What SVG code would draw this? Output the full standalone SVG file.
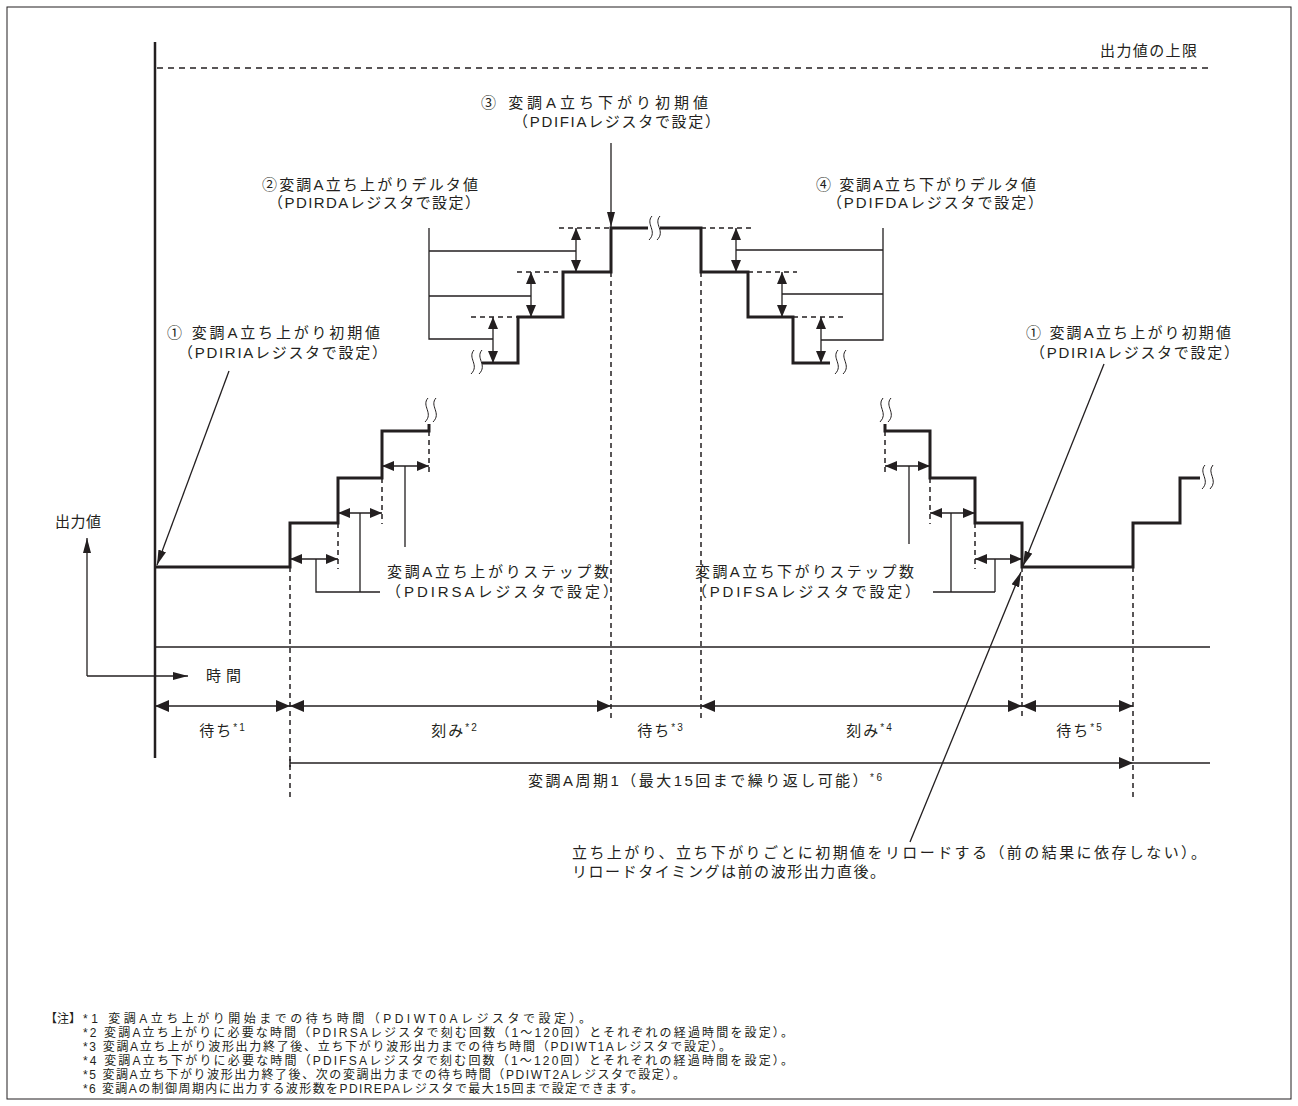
<svg xmlns="http://www.w3.org/2000/svg" width="1298" height="1106" viewBox="0 0 1298 1106">
<defs>
<style>
.t{font-family:"Liberation Sans","Noto Sans CJK JP",sans-serif;font-size:15px;fill:#231f20}
.n{font-size:12px}
.sup{font-size:10px}
.wf{fill:none;stroke:#231f20;stroke-width:3;stroke-linejoin:miter}
.ln{fill:none;stroke:#231f20;stroke-width:1.3}
.dm{fill:none;stroke:#231f20;stroke-width:1.5}
.ax{fill:none;stroke:#231f20;stroke-width:2.5}
.ds{fill:none;stroke:#231f20;stroke-width:1.5;stroke-dasharray:5 4}
.dl{fill:none;stroke:#231f20;stroke-width:1.5;stroke-dasharray:6 5}
.bk{fill:none;stroke:#231f20;stroke-width:1}
</style>
<marker id="s" viewBox="0 0 12 10" refX="12" refY="5" markerWidth="12" markerHeight="10" markerUnits="userSpaceOnUse" orient="auto-start-reverse"><path d="M0,0L12,5L0,10z" fill="#231f20"/></marker>
<marker id="d" viewBox="0 0 14 12" refX="14" refY="6" markerWidth="14" markerHeight="12" markerUnits="userSpaceOnUse" orient="auto-start-reverse"><path d="M0,0L14,6L0,12z" fill="#231f20"/></marker>
<marker id="p" viewBox="0 0 15 8" refX="15" refY="4" markerWidth="15" markerHeight="8" markerUnits="userSpaceOnUse" orient="auto"><path d="M0,0L15,4L0,8z" fill="#231f20"/></marker>
<g id="brk"><path class="bk" d="M-2,-12C-9,-4 4,3 -5,12M6,-12C-1,-4 12,3 3,12"/></g>
</defs>

<rect x="7" y="7" width="1284" height="1092" fill="#fff" stroke="#231f20" stroke-width="1"/>

<g id="axes">
<line class="ax" x1="155" y1="42" x2="155" y2="758"/>
<line class="dm" x1="155" y1="647" x2="1210" y2="647"/>
<line class="dl" x1="157" y1="68" x2="1210" y2="68"/>
<path class="ln" d="M87,676V538" marker-end="url(#p)"/>
<path class="ln" d="M87,676H188" marker-end="url(#p)"/>
</g>

<g id="waveform">
<path class="wf" d="M155,567H290V523H338V478H382V431H429V424"/>
<path class="wf" d="M482,363H518V317H563V272H611V228H648"/>
<path class="wf" d="M660,228H701V272H748V317H793V363H830"/>
<path class="wf" d="M885,424V431H930V478H975V523H1022V567H1133V523H1180V478H1200"/>
<use href="#brk" x="430" y="410"/>
<use href="#brk" x="885" y="410"/>
<use href="#brk" x="476" y="362"/>
<use href="#brk" x="654" y="228"/>
<use href="#brk" x="840" y="362"/>
<use href="#brk" x="1207" y="477"/>
</g>

<g id="connectors">
<line class="ds" x1="290" y1="567" x2="290" y2="800"/>
<line class="ds" x1="611" y1="272" x2="611" y2="720"/>
<line class="ds" x1="701" y1="272" x2="701" y2="720"/>
<line class="ds" x1="1022" y1="567" x2="1022" y2="720"/>
<line class="ds" x1="1133" y1="567" x2="1133" y2="800"/>
<line class="ds" x1="338" y1="523" x2="338" y2="569"/>
<line class="ds" x1="382" y1="478" x2="382" y2="524"/>
<line class="ds" x1="429" y1="431" x2="429" y2="476"/>
<line class="ds" x1="885" y1="431" x2="885" y2="476"/>
<line class="ds" x1="930" y1="478" x2="930" y2="524"/>
<line class="ds" x1="975" y1="523" x2="975" y2="569"/>
<line class="ds" x1="559" y1="228" x2="611" y2="228"/>
<line class="ds" x1="517" y1="272" x2="563" y2="272"/>
<line class="ds" x1="471" y1="317" x2="518" y2="317"/>
<line class="ds" x1="701" y1="228" x2="753" y2="228"/>
<line class="ds" x1="748" y1="272" x2="797" y2="272"/>
<line class="ds" x1="793" y1="317" x2="843" y2="317"/>
<line class="ln" x1="576" y1="228" x2="576" y2="272" marker-start="url(#s)" marker-end="url(#s)"/>
<line class="ln" x1="531" y1="272" x2="531" y2="317" marker-start="url(#s)" marker-end="url(#s)"/>
<line class="ln" x1="493" y1="317" x2="493" y2="363" marker-start="url(#s)" marker-end="url(#s)"/>
<line class="ln" x1="736" y1="228" x2="736" y2="272" marker-start="url(#s)" marker-end="url(#s)"/>
<line class="ln" x1="782" y1="272" x2="782" y2="317" marker-start="url(#s)" marker-end="url(#s)"/>
<line class="ln" x1="821" y1="317" x2="821" y2="363" marker-start="url(#s)" marker-end="url(#s)"/>
<path class="ln" d="M429,228V339H493M429,296H531M429,251H576"/>
<path class="ln" d="M883,228V340H821M883,294H782M883,250H736"/>
<line class="ln" x1="290" y1="559" x2="338" y2="559" marker-start="url(#s)" marker-end="url(#s)"/>
<line class="ln" x1="338" y1="513" x2="382" y2="513" marker-start="url(#s)" marker-end="url(#s)"/>
<line class="ln" x1="382" y1="466" x2="429" y2="466" marker-start="url(#s)" marker-end="url(#s)"/>
<line class="ln" x1="885" y1="466" x2="930" y2="466" marker-start="url(#s)" marker-end="url(#s)"/>
<line class="ln" x1="930" y1="513" x2="975" y2="513" marker-start="url(#s)" marker-end="url(#s)"/>
<line class="ln" x1="975" y1="559" x2="1022" y2="559" marker-start="url(#s)" marker-end="url(#s)"/>
<path class="ln" d="M316,559V592H380M360,513V592M405,466V547"/>
<path class="ln" d="M909,466V544M951,513V592M995,559V592M933,592H995"/>
<line class="ln" x1="611" y1="143" x2="611" y2="227" marker-end="url(#p)"/>
<line class="ln" x1="229" y1="371" x2="157" y2="565" marker-end="url(#p)"/>
<line class="ln" x1="1104" y1="364" x2="1023" y2="566" marker-end="url(#p)"/>
<line class="ln" x1="910" y1="842" x2="1021" y2="572" marker-end="url(#p)"/>
<line class="dm" x1="155" y1="706" x2="290" y2="706" marker-start="url(#d)" marker-end="url(#d)"/>
<line class="dm" x1="290" y1="706" x2="611" y2="706" marker-start="url(#d)" marker-end="url(#d)"/>
<line class="dm" x1="611" y1="706" x2="701" y2="706"/>
<line class="dm" x1="701" y1="706" x2="1022" y2="706" marker-start="url(#d)" marker-end="url(#d)"/>
<line class="dm" x1="1022" y1="706" x2="1133" y2="706" marker-start="url(#d)" marker-end="url(#d)"/>
<line class="dm" x1="290" y1="763" x2="1133" y2="763" marker-end="url(#d)"/>
<line class="dm" x1="1133" y1="763" x2="1210" y2="763"/>
<line class="dm" x1="290" y1="759" x2="290" y2="767"/>
</g>

<g id="label-limit"><text class="t" x="1100" y="56" font-size="14" textLength="97" lengthAdjust="spacing">出力値の上限</text></g>
<g id="label-output"><text class="t" x="55" y="527" font-size="14" textLength="46" lengthAdjust="spacing">出力値</text></g>
<g id="label-time"><text class="t" x="206" y="681" textLength="35" lengthAdjust="spacing">時間</text></g>

<g id="label-3">
<text class="t" x="481" y="108" textLength="227" lengthAdjust="spacing">③ 変調A立ち下がり初期値</text>
<text class="t" x="513" y="127" textLength="207" lengthAdjust="spacing">（PDIFIAレジスタで設定）</text>
</g>
<g id="label-2">
<text class="t" x="262" y="190" textLength="216" lengthAdjust="spacing">②変調A立ち上がりデルタ値</text>
<text class="t" x="268" y="208" textLength="212" lengthAdjust="spacing">（PDIRDAレジスタで設定）</text>
</g>
<g id="label-4">
<text class="t" x="816" y="190" textLength="220" lengthAdjust="spacing">④ 変調A立ち下がりデルタ値</text>
<text class="t" x="827" y="208" textLength="216" lengthAdjust="spacing">（PDIFDAレジスタで設定）</text>
</g>
<g id="label-1-left">
<text class="t" x="167" y="338" textLength="213" lengthAdjust="spacing">① 変調A立ち上がり初期値</text>
<text class="t" x="178" y="358" textLength="209" lengthAdjust="spacing">（PDIRIAレジスタで設定）</text>
</g>
<g id="label-1-right">
<text class="t" x="1026" y="338" textLength="205" lengthAdjust="spacing">① 変調A立ち上がり初期値</text>
<text class="t" x="1030" y="358" textLength="209" lengthAdjust="spacing">（PDIRIAレジスタで設定）</text>
</g>
<g id="label-rise-steps">
<text class="t" x="387" y="577" textLength="222" lengthAdjust="spacing">変調A立ち上がりステップ数</text>
<text class="t" x="386" y="597" textLength="232" lengthAdjust="spacing">（PDIRSAレジスタで設定）</text>
</g>
<g id="label-fall-steps">
<text class="t" x="695" y="577" textLength="219" lengthAdjust="spacing">変調A立ち下がりステップ数</text>
<text class="t" x="692" y="597" textLength="228" lengthAdjust="spacing">（PDIFSAレジスタで設定）</text>
</g>

<g id="label-dims">
<text class="t" x="223" y="736" text-anchor="middle" letter-spacing="2">待ち<tspan class="sup" dy="-5">*1</tspan></text>
<text class="t" x="455" y="736" text-anchor="middle" letter-spacing="2">刻み<tspan class="sup" dy="-5">*2</tspan></text>
<text class="t" x="661" y="736" text-anchor="middle" letter-spacing="2">待ち<tspan class="sup" dy="-5">*3</tspan></text>
<text class="t" x="870" y="736" text-anchor="middle" letter-spacing="2">刻み<tspan class="sup" dy="-5">*4</tspan></text>
<text class="t" x="1080" y="736" text-anchor="middle" letter-spacing="2">待ち<tspan class="sup" dy="-5">*5</tspan></text>
</g>
<g id="label-period"><text class="t" x="528" y="786" textLength="354" lengthAdjust="spacing">変調A周期1（最大15回まで繰り返し可能）<tspan class="sup" dy="-5">*6</tspan></text></g>

<g id="label-reload">
<text class="t" x="572" y="858" textLength="634" lengthAdjust="spacing">立ち上がり、立ち下がりごとに初期値をリロードする（前の結果に依存しない）。</text>
<text class="t" x="572" y="877" textLength="313" lengthAdjust="spacing">リロードタイミングは前の波形出力直後。</text>
</g>

<g id="notes">
<text class="t n" x="45" y="1023">【注】</text>
<text class="t n" x="83" y="1023" textLength="508" lengthAdjust="spacing">*1 変調A立ち上がり開始までの待ち時間（PDIWT0Aレジスタで設定）。</text>
<text class="t n" x="83" y="1037" textLength="710" lengthAdjust="spacing">*2 変調A立ち上がりに必要な時間（PDIRSAレジスタで刻む回数（1～120回）とそれぞれの経過時間を設定）。</text>
<text class="t n" x="83" y="1051" textLength="648" lengthAdjust="spacing">*3 変調A立ち上がり波形出力終了後、立ち下がり波形出力までの待ち時間（PDIWT1Aレジスタで設定）。</text>
<text class="t n" x="83" y="1065" textLength="710" lengthAdjust="spacing">*4 変調A立ち下がりに必要な時間（PDIFSAレジスタで刻む回数（1～120回）とそれぞれの経過時間を設定）。</text>
<text class="t n" x="83" y="1079" textLength="602" lengthAdjust="spacing">*5 変調A立ち下がり波形出力終了後、次の変調出力までの待ち時間（PDIWT2Aレジスタで設定）。</text>
<text class="t n" x="83" y="1093" textLength="560" lengthAdjust="spacing">*6 変調Aの制御周期内に出力する波形数をPDIREPAレジスタで最大15回まで設定できます。</text>
</g>
</svg>
